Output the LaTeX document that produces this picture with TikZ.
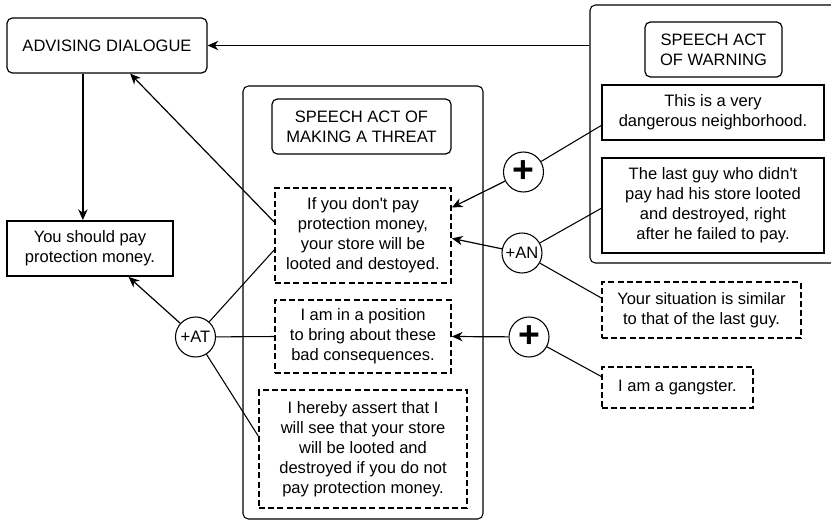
\documentclass[tikz,border=0pt]{standalone}
\usepackage{fontspec}
\setmainfont{Liberation Sans}
\usetikzlibrary{arrows.meta,calc}

\begin{document}
\begin{tikzpicture}[x=0.75pt,y=-0.75pt,
  font=\fontsize{12.4}{15}\selectfont,
  every node/.style={inner sep=0pt,align=center},
  frame/.style={draw,rounded corners=4pt,line width=0.8pt},
  roundbox/.style={draw,rounded corners=4pt,line width=0.9pt},
  solidbox/.style={draw,line width=1.4pt},
  dashbox/.style={draw,line width=1.3pt,dash pattern=on 4.5pt off 2.4pt},
  junction/.style={draw,circle,line width=0.8pt,minimum size=30pt},
  plussign/.style={font=\fontsize{28}{28}\selectfont\bfseries},
  arr/.style={line width=0.9pt,-{Stealth[length=8pt,width=7pt,inset=2.5pt]}},
  link/.style={line width=0.8pt}
]
\clip (0,0) rectangle (831,522);

% containers for the two speech acts
\node[frame,minimum width=180pt,minimum height=324.75pt] (threat) at (363,302.5) {};
\node[frame,minimum width=187.5pt,minimum height=193.5pt] (warn) at (715,134) {};

% dialogue and conclusion
\node[roundbox,minimum width=150pt,minimum height=41.25pt] (adv) at (107,45.5) {ADVISING DIALOGUE};
\node[solidbox,minimum width=124.5pt,minimum height=41.25pt] (should) at (90,248.5) {You should pay\\protection money.};

% speech act of making a threat
\node[roundbox,minimum width=134.25pt,minimum height=41.25pt] (ttitle) at (361.5,126.5) {SPEECH ACT OF\\MAKING A THREAT};
\node[dashbox,minimum width=132pt,minimum height=71.25pt] (ifpay) at (363,235.5)
  {If you don\textquotesingle t pay\\protection money,\\your store will be\\looted and destoyed.};
\node[dashbox,minimum width=132pt,minimum height=54.75pt] (position) at (363,336.5)
  {I am in a position\\to bring about these\\bad consequences.};
\node[dashbox,minimum width=156pt,minimum height=88.5pt] (assert) at (363,449)
  {I hereby assert that I\\will see that your store\\will be looted and\\destroyed if you do not\\pay protection money.};

% speech act of warning
\node[roundbox,minimum width=102.75pt,minimum height=41.25pt] (wtitle) at (713.5,49.5) {SPEECH ACT\\OF WARNING};
\node[solidbox,minimum width=166.5pt,minimum height=41.25pt] (danger) at (713,112.5)
  {This is a very\\dangerous neighborhood.};
\node[solidbox,minimum width=166.5pt,minimum height=71.25pt] (lastguy) at (713,205.5)
  {The last guy who didn\textquotesingle t\\pay had his store looted\\and destroyed, right\\after he failed to pay.};

% premises outside the containers
\node[dashbox,minimum width=149.25pt,minimum height=42pt] (similar) at (701.5,310)
  {Your situation is similar\\to that of the last guy.};
\node[dashbox,minimum width=113.25pt,minimum height=30.75pt] (gangster) at (677.5,387.5) {I am a gangster.};

% argument junctions
\node[junction,plussign] (plusA) at (523.5,172) {+};
\node[junction] (an) at (522,253) {+AN};
\node[junction,plussign] (plusB) at (529,337) {+};
\node[junction] (at) at (195.5,337) {+AT};

% connectors
\draw[arr] (warn.west |- adv.east) -- (adv.east);
\coordinate (advdown) at ($(adv.south west)!0.38!(adv.south east)$);
\draw[arr,line width=1.4pt] (advdown) -- (advdown |- should.north);
\draw[arr] ($(ifpay.north west)!0.36!(ifpay.south west)$) -- ($(adv.south west)!0.615!(adv.south east)$);

\draw[link] ($(danger.north west)!0.73!(danger.south west)$) -- (plusA);
\draw[arr] (plusA) -- ($(ifpay.north east)!0.21!(ifpay.south east)$);

\draw[link] ($(lastguy.north west)!0.53!(lastguy.south west)$) -- (an);
\draw[link] ($(similar.north west)!0.29!(similar.south west)$) -- (an);
\draw[arr] (an) -- ($(ifpay.north east)!0.53!(ifpay.south east)$);

\draw[link] ($(gangster.north west)!0.24!(gangster.south west)$) -- (plusB);
\draw[arr] (plusB) -- (position.east);

\draw[link] ($(ifpay.north west)!0.65!(ifpay.south west)$) -- (at);
\draw[link] (position.west) -- (at);
\draw[link] ($(assert.north west)!0.39!(assert.south west)$) -- (at);
\draw[arr] (at) -- ($(should.south west)!0.73!(should.south east)$);
\end{tikzpicture}
\end{document}
